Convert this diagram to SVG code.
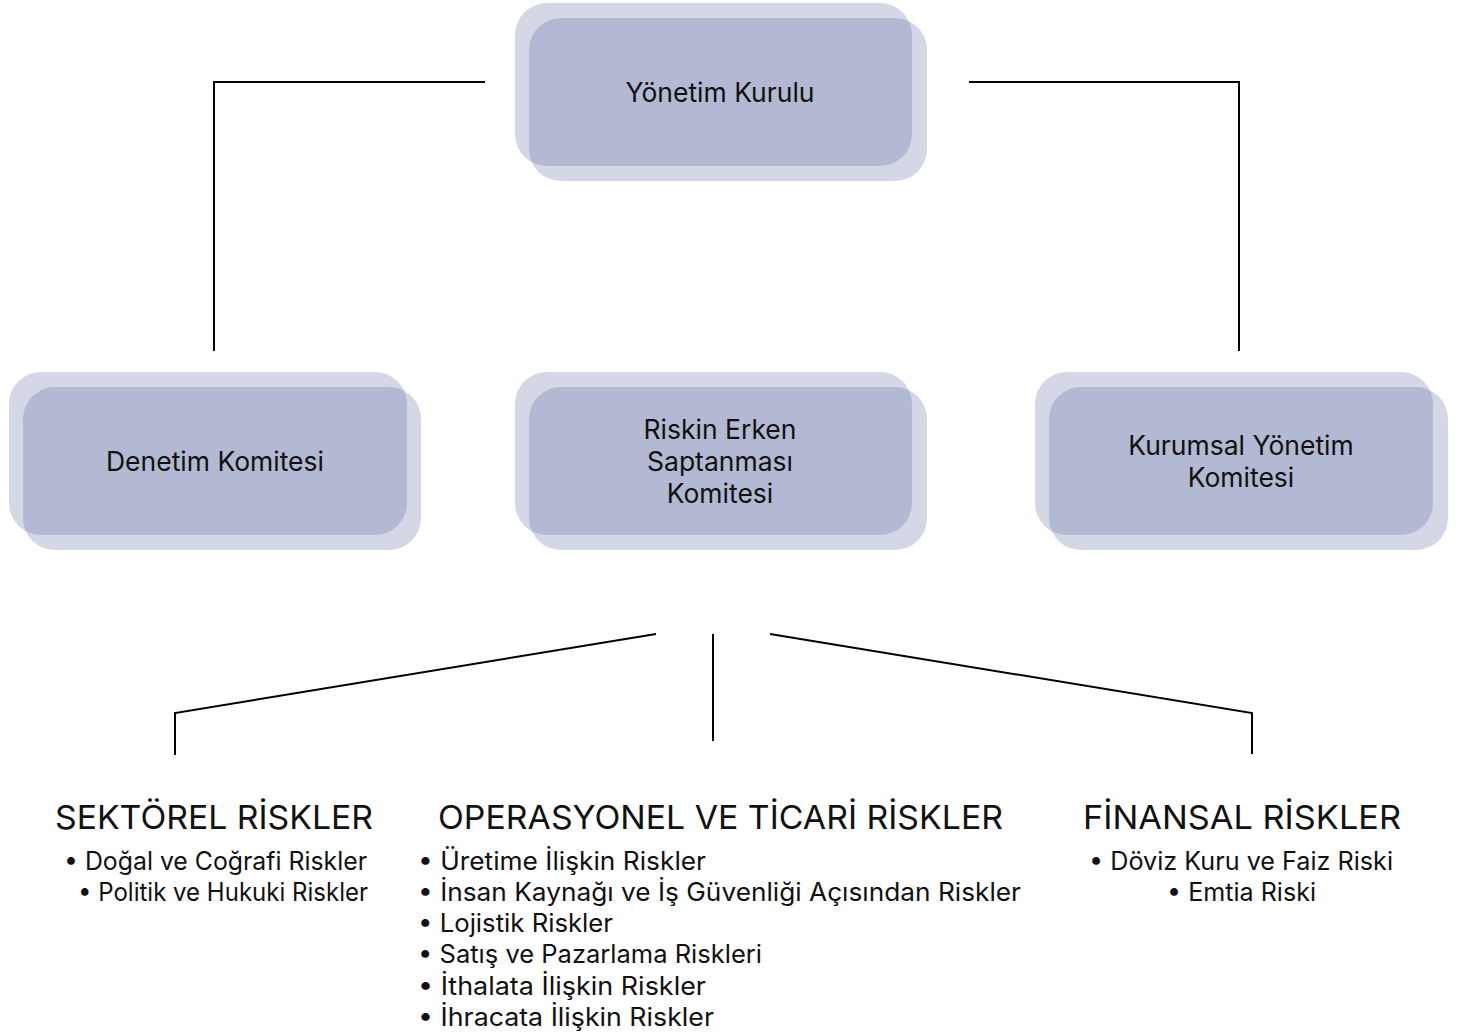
<svg xmlns="http://www.w3.org/2000/svg" width="1462" height="1035" viewBox="0 0 1462 1035">
<style>
.bg{fill:#fff}
.sh{fill:#4c5897;fill-opacity:0.24}
.lbl{font-family:Inter,"Liberation Sans",sans-serif;font-size:26.5px;fill:#111;text-anchor:middle}
.hd{font-family:Inter,"Liberation Sans",sans-serif;font-size:33px;fill:#111}
.li{font-family:Inter,"Liberation Sans",sans-serif;font-size:25px;fill:#111}
.cn{fill:none;stroke:#000;stroke-width:2}
</style>
<rect class="bg" width="1462" height="1035"/>
<g id="connectors">
<path class="cn" d="M485 82H214V351"/>
<path class="cn" d="M969 82H1239V351"/>
<path class="cn" d="M656 634L175 713V755"/>
<path class="cn" d="M713 634V741"/>
<path class="cn" d="M770 634L1252 713V754"/>
</g>
<g id="yonetim-kurulu">
<rect class="sh" x="515" y="3" width="397" height="163" rx="32"/>
<rect class="sh" x="529" y="18" width="398" height="163" rx="32"/>
<text class="lbl" x="720" y="102">Yönetim Kurulu</text>
</g>
<g id="denetim-komitesi">
<rect class="sh" x="9" y="372" width="398" height="163" rx="32"/>
<rect class="sh" x="23" y="387" width="398" height="163" rx="32"/>
<text class="lbl" x="215" y="471">Denetim Komitesi</text>
</g>
<g id="riskin-erken">
<rect class="sh" x="515" y="372" width="397" height="163" rx="32"/>
<rect class="sh" x="529" y="387" width="398" height="163" rx="32"/>
<text class="lbl" x="720" y="439">Riskin Erken</text>
<text class="lbl" x="720" y="471">Saptanması</text>
<text class="lbl" x="720" y="503">Komitesi</text>
</g>
<g id="kurumsal-yonetim">
<rect class="sh" x="1035" y="372" width="398" height="163" rx="32"/>
<rect class="sh" x="1049" y="387" width="399" height="163" rx="32"/>
<text class="lbl" x="1241" y="455">Kurumsal Yönetim</text>
<text class="lbl" x="1241" y="487">Komitesi</text>
</g>
<g id="sektorel">
<text class="hd" x="55" y="829" textLength="318" lengthAdjust="spacingAndGlyphs">SEKTÖREL RİSKLER</text>
<text class="li" x="64" y="870" textLength="303" lengthAdjust="spacingAndGlyphs">• Doğal ve Coğrafi Riskler</text>
<text class="li" x="78" y="901" textLength="290" lengthAdjust="spacingAndGlyphs">• Politik ve Hukuki Riskler</text>
</g>
<g id="operasyonel">
<text class="hd" x="438" y="829" textLength="565" lengthAdjust="spacingAndGlyphs">OPERASYONEL VE TİCARİ RİSKLER</text>
<text class="li" x="418" y="870" textLength="288" lengthAdjust="spacingAndGlyphs">• Üretime İlişkin Riskler</text>
<text class="li" x="418" y="901" textLength="603" lengthAdjust="spacingAndGlyphs">• İnsan Kaynağı ve İş Güvenliği Açısından Riskler</text>
<text class="li" x="418" y="932" textLength="195" lengthAdjust="spacingAndGlyphs">• Lojistik Riskler</text>
<text class="li" x="418" y="963" textLength="344" lengthAdjust="spacingAndGlyphs">• Satış ve Pazarlama Riskleri</text>
<text class="li" x="418" y="995" textLength="288" lengthAdjust="spacingAndGlyphs">• İthalata İlişkin Riskler</text>
<text class="li" x="418" y="1026" textLength="296" lengthAdjust="spacingAndGlyphs">• İhracata İlişkin Riskler</text>
</g>
<g id="finansal">
<text class="hd" x="1083" y="829" textLength="318" lengthAdjust="spacingAndGlyphs">FİNANSAL RİSKLER</text>
<text class="li" x="1089" y="870" textLength="304" lengthAdjust="spacingAndGlyphs">• Döviz Kuru ve Faiz Riski</text>
<text class="li" x="1167" y="901" textLength="149" lengthAdjust="spacingAndGlyphs">• Emtia Riski</text>
</g>
</svg>
